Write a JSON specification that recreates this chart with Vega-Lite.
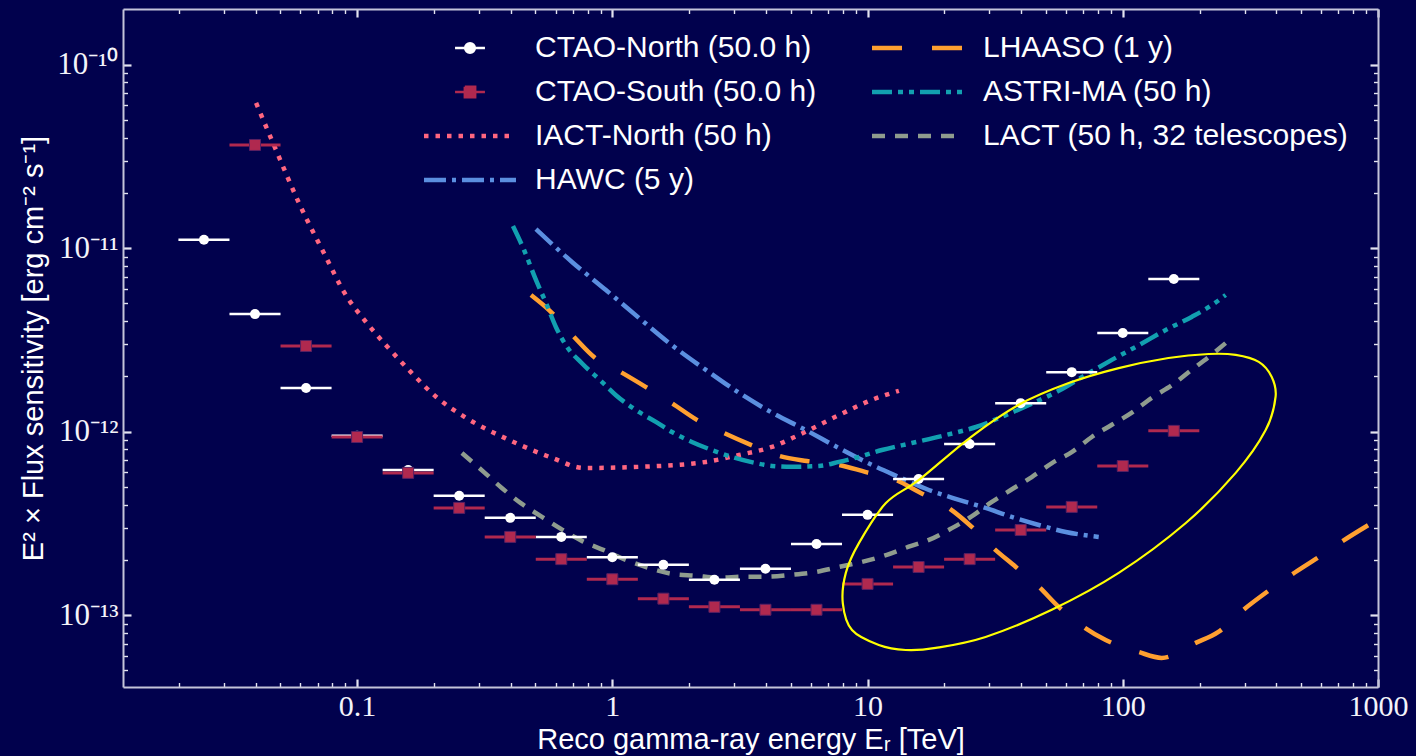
{
  "$schema": "https://vega.github.io/schema/vega-lite/v6.json",
  "width": 1255,
  "height": 678,
  "autosize": {"type": "none"},
  "padding": {"left": 123, "top": 9, "right": 38, "bottom": 69},
  "background": "#01014d",
  "config": {"view": {"stroke": null}, "axis": {"grid": false}},
  "datasets": {
    "ctao": [
      {"s": "CTAO-North (50.0 h)", "e": 0.02512, "elo": 0.01995, "ehi": 0.03162, "f": 1.11e-11},
      {"s": "CTAO-North (50.0 h)", "e": 0.03981, "elo": 0.03162, "ehi": 0.05012, "f": 4.37e-12},
      {"s": "CTAO-North (50.0 h)", "e": 0.0631, "elo": 0.05012, "ehi": 0.07943, "f": 1.73e-12},
      {"s": "CTAO-North (50.0 h)", "e": 0.1, "elo": 0.07943, "ehi": 0.1259, "f": 9.5e-13},
      {"s": "CTAO-North (50.0 h)", "e": 0.1585, "elo": 0.1259, "ehi": 0.1995, "f": 6.18e-13},
      {"s": "CTAO-North (50.0 h)", "e": 0.2512, "elo": 0.1995, "ehi": 0.3162, "f": 4.47e-13},
      {"s": "CTAO-North (50.0 h)", "e": 0.3981, "elo": 0.3162, "ehi": 0.5012, "f": 3.39e-13},
      {"s": "CTAO-North (50.0 h)", "e": 0.631, "elo": 0.5012, "ehi": 0.7943, "f": 2.67e-13},
      {"s": "CTAO-North (50.0 h)", "e": 1.0, "elo": 0.7943, "ehi": 1.259, "f": 2.07e-13},
      {"s": "CTAO-North (50.0 h)", "e": 1.585, "elo": 1.259, "ehi": 1.995, "f": 1.88e-13},
      {"s": "CTAO-North (50.0 h)", "e": 2.512, "elo": 1.995, "ehi": 3.162, "f": 1.56e-13},
      {"s": "CTAO-North (50.0 h)", "e": 3.981, "elo": 3.162, "ehi": 5.012, "f": 1.79e-13},
      {"s": "CTAO-North (50.0 h)", "e": 6.31, "elo": 5.012, "ehi": 7.943, "f": 2.44e-13},
      {"s": "CTAO-North (50.0 h)", "e": 10.0, "elo": 7.943, "ehi": 12.59, "f": 3.52e-13},
      {"s": "CTAO-North (50.0 h)", "e": 15.85, "elo": 12.59, "ehi": 19.95, "f": 5.52e-13},
      {"s": "CTAO-North (50.0 h)", "e": 25.12, "elo": 19.95, "ehi": 31.62, "f": 8.57e-13},
      {"s": "CTAO-North (50.0 h)", "e": 39.81, "elo": 31.62, "ehi": 50.12, "f": 1.43e-12},
      {"s": "CTAO-North (50.0 h)", "e": 63.1, "elo": 50.12, "ehi": 79.43, "f": 2.11e-12},
      {"s": "CTAO-North (50.0 h)", "e": 100.0, "elo": 79.43, "ehi": 125.9, "f": 3.45e-12},
      {"s": "CTAO-North (50.0 h)", "e": 158.5, "elo": 125.9, "ehi": 199.5, "f": 6.79e-12},
      {"s": "CTAO-South (50.0 h)", "e": 0.03981, "elo": 0.03162, "ehi": 0.05012, "f": 3.65e-11},
      {"s": "CTAO-South (50.0 h)", "e": 0.0631, "elo": 0.05012, "ehi": 0.07943, "f": 2.93e-12},
      {"s": "CTAO-South (50.0 h)", "e": 0.1, "elo": 0.07943, "ehi": 0.1259, "f": 9.35e-13},
      {"s": "CTAO-South (50.0 h)", "e": 0.1585, "elo": 0.1259, "ehi": 0.1995, "f": 5.96e-13},
      {"s": "CTAO-South (50.0 h)", "e": 0.2512, "elo": 0.1995, "ehi": 0.3162, "f": 3.84e-13},
      {"s": "CTAO-South (50.0 h)", "e": 0.3981, "elo": 0.3162, "ehi": 0.5012, "f": 2.67e-13},
      {"s": "CTAO-South (50.0 h)", "e": 0.631, "elo": 0.5012, "ehi": 0.7943, "f": 2.02e-13},
      {"s": "CTAO-South (50.0 h)", "e": 1.0, "elo": 0.7943, "ehi": 1.259, "f": 1.57e-13},
      {"s": "CTAO-South (50.0 h)", "e": 1.585, "elo": 1.259, "ehi": 1.995, "f": 1.23e-13},
      {"s": "CTAO-South (50.0 h)", "e": 2.512, "elo": 1.995, "ehi": 3.162, "f": 1.11e-13},
      {"s": "CTAO-South (50.0 h)", "e": 3.981, "elo": 3.162, "ehi": 5.012, "f": 1.07e-13},
      {"s": "CTAO-South (50.0 h)", "e": 6.31, "elo": 5.012, "ehi": 7.943, "f": 1.07e-13},
      {"s": "CTAO-South (50.0 h)", "e": 10.0, "elo": 7.943, "ehi": 12.59, "f": 1.48e-13},
      {"s": "CTAO-South (50.0 h)", "e": 15.85, "elo": 12.59, "ehi": 19.95, "f": 1.83e-13},
      {"s": "CTAO-South (50.0 h)", "e": 25.12, "elo": 19.95, "ehi": 31.62, "f": 2.02e-13},
      {"s": "CTAO-South (50.0 h)", "e": 39.81, "elo": 31.62, "ehi": 50.12, "f": 2.91e-13},
      {"s": "CTAO-South (50.0 h)", "e": 63.1, "elo": 50.12, "ehi": 79.43, "f": 3.89e-13},
      {"s": "CTAO-South (50.0 h)", "e": 100.0, "elo": 79.43, "ehi": 125.9, "f": 6.5e-13},
      {"s": "CTAO-South (50.0 h)", "e": 158.5, "elo": 125.9, "ehi": 199.5, "f": 1.01e-12}
    ],
    "curves": [
      {"s": "IACT-North (50 h)", "e": 0.0402, "f": 6.18e-11},
      {"s": "IACT-North (50 h)", "e": 0.0481, "f": 3.43e-11},
      {"s": "IACT-North (50 h)", "e": 0.0592, "f": 1.76e-11},
      {"s": "IACT-North (50 h)", "e": 0.0755, "f": 8.95e-12},
      {"s": "IACT-North (50 h)", "e": 0.0888, "f": 5.77e-12},
      {"s": "IACT-North (50 h)", "e": 0.1083, "f": 3.96e-12},
      {"s": "IACT-North (50 h)", "e": 0.1298, "f": 2.96e-12},
      {"s": "IACT-North (50 h)", "e": 0.1625, "f": 2.11e-12},
      {"s": "IACT-North (50 h)", "e": 0.2037, "f": 1.55e-12},
      {"s": "IACT-North (50 h)", "e": 0.2671, "f": 1.19e-12},
      {"s": "IACT-North (50 h)", "e": 0.3936, "f": 9.02e-13},
      {"s": "IACT-North (50 h)", "e": 0.58, "f": 7.2e-13},
      {"s": "IACT-North (50 h)", "e": 0.774, "f": 6.34e-13},
      {"s": "IACT-North (50 h)", "e": 1.271, "f": 6.43e-13},
      {"s": "IACT-North (50 h)", "e": 2.326, "f": 6.84e-13},
      {"s": "IACT-North (50 h)", "e": 3.133, "f": 7.46e-13},
      {"s": "IACT-North (50 h)", "e": 4.22, "f": 8.26e-13},
      {"s": "IACT-North (50 h)", "e": 5.38, "f": 9.59e-13},
      {"s": "IACT-North (50 h)", "e": 7.72, "f": 1.23e-12},
      {"s": "IACT-North (50 h)", "e": 10.4, "f": 1.49e-12},
      {"s": "IACT-North (50 h)", "e": 13.27, "f": 1.67e-12},
      {"s": "HAWC (5 y)", "e": 0.502, "f": 1.27e-11},
      {"s": "HAWC (5 y)", "e": 0.695, "f": 8.41e-12},
      {"s": "HAWC (5 y)", "e": 0.944, "f": 5.91e-12},
      {"s": "HAWC (5 y)", "e": 1.271, "f": 4.17e-12},
      {"s": "HAWC (5 y)", "e": 1.712, "f": 2.96e-12},
      {"s": "HAWC (5 y)", "e": 2.326, "f": 2.17e-12},
      {"s": "HAWC (5 y)", "e": 3.133, "f": 1.63e-12},
      {"s": "HAWC (5 y)", "e": 4.22, "f": 1.27e-12},
      {"s": "HAWC (5 y)", "e": 5.73, "f": 1.02e-12},
      {"s": "HAWC (5 y)", "e": 7.72, "f": 8.14e-13},
      {"s": "HAWC (5 y)", "e": 10.4, "f": 6.59e-13},
      {"s": "HAWC (5 y)", "e": 13.27, "f": 5.66e-13},
      {"s": "HAWC (5 y)", "e": 17.39, "f": 4.81e-13},
      {"s": "HAWC (5 y)", "e": 22.8, "f": 4.25e-13},
      {"s": "HAWC (5 y)", "e": 29.0, "f": 3.84e-13},
      {"s": "HAWC (5 y)", "e": 36.7, "f": 3.43e-13},
      {"s": "HAWC (5 y)", "e": 46.9, "f": 3.1e-13},
      {"s": "HAWC (5 y)", "e": 59.8, "f": 2.84e-13},
      {"s": "HAWC (5 y)", "e": 80.5, "f": 2.67e-13},
      {"s": "LHAASO (1 y)", "e": 0.48, "f": 5.56e-12},
      {"s": "LHAASO (1 y)", "e": 0.565, "f": 4.6e-12},
      {"s": "LHAASO (1 y)", "e": 0.708, "f": 3.28e-12},
      {"s": "LHAASO (1 y)", "e": 0.848, "f": 2.55e-12},
      {"s": "LHAASO (1 y)", "e": 1.081, "f": 2.11e-12},
      {"s": "LHAASO (1 y)", "e": 1.355, "f": 1.75e-12},
      {"s": "LHAASO (1 y)", "e": 1.712, "f": 1.43e-12},
      {"s": "LHAASO (1 y)", "e": 2.144, "f": 1.16e-12},
      {"s": "LHAASO (1 y)", "e": 2.735, "f": 9.84e-13},
      {"s": "LHAASO (1 y)", "e": 3.49, "f": 8.47e-13},
      {"s": "LHAASO (1 y)", "e": 4.5, "f": 7.38e-13},
      {"s": "LHAASO (1 y)", "e": 5.78, "f": 6.92e-13},
      {"s": "LHAASO (1 y)", "e": 7.72, "f": 6.59e-13},
      {"s": "LHAASO (1 y)", "e": 9.85, "f": 6.02e-13},
      {"s": "LHAASO (1 y)", "e": 12.9, "f": 5.46e-13},
      {"s": "LHAASO (1 y)", "e": 15.9, "f": 4.69e-13},
      {"s": "LHAASO (1 y)", "e": 20.8, "f": 3.84e-13},
      {"s": "LHAASO (1 y)", "e": 25.6, "f": 3.03e-13},
      {"s": "LHAASO (1 y)", "e": 30.7, "f": 2.36e-13},
      {"s": "LHAASO (1 y)", "e": 38.1, "f": 1.83e-13},
      {"s": "LHAASO (1 y)", "e": 46.9, "f": 1.43e-13},
      {"s": "LHAASO (1 y)", "e": 56.1, "f": 1.11e-13},
      {"s": "LHAASO (1 y)", "e": 70.3, "f": 8.62e-14},
      {"s": "LHAASO (1 y)", "e": 85.7, "f": 7.32e-14},
      {"s": "LHAASO (1 y)", "e": 115.4, "f": 6.3e-14},
      {"s": "LHAASO (1 y)", "e": 142, "f": 5.85e-14},
      {"s": "LHAASO (1 y)", "e": 193, "f": 7.06e-14},
      {"s": "LHAASO (1 y)", "e": 237, "f": 8.1e-14},
      {"s": "LHAASO (1 y)", "e": 297, "f": 1.07e-13},
      {"s": "LHAASO (1 y)", "e": 362, "f": 1.32e-13},
      {"s": "LHAASO (1 y)", "e": 458, "f": 1.66e-13},
      {"s": "LHAASO (1 y)", "e": 569, "f": 2.02e-13},
      {"s": "LHAASO (1 y)", "e": 719, "f": 2.51e-13},
      {"s": "LHAASO (1 y)", "e": 1000, "f": 3.33e-13},
      {"s": "ASTRI-MA (50 h)", "e": 0.408, "f": 1.32e-11},
      {"s": "ASTRI-MA (50 h)", "e": 0.451, "f": 9.77e-12},
      {"s": "ASTRI-MA (50 h)", "e": 0.502, "f": 6.71e-12},
      {"s": "ASTRI-MA (50 h)", "e": 0.55, "f": 5.02e-12},
      {"s": "ASTRI-MA (50 h)", "e": 0.601, "f": 3.72e-12},
      {"s": "ASTRI-MA (50 h)", "e": 0.664, "f": 2.9e-12},
      {"s": "ASTRI-MA (50 h)", "e": 0.76, "f": 2.36e-12},
      {"s": "ASTRI-MA (50 h)", "e": 0.91, "f": 1.87e-12},
      {"s": "ASTRI-MA (50 h)", "e": 1.033, "f": 1.58e-12},
      {"s": "ASTRI-MA (50 h)", "e": 1.271, "f": 1.28e-12},
      {"s": "ASTRI-MA (50 h)", "e": 1.481, "f": 1.13e-12},
      {"s": "ASTRI-MA (50 h)", "e": 1.712, "f": 9.95e-13},
      {"s": "ASTRI-MA (50 h)", "e": 2.05, "f": 8.79e-13},
      {"s": "ASTRI-MA (50 h)", "e": 2.455, "f": 7.94e-13},
      {"s": "ASTRI-MA (50 h)", "e": 2.94, "f": 7.28e-13},
      {"s": "ASTRI-MA (50 h)", "e": 3.65, "f": 6.74e-13},
      {"s": "ASTRI-MA (50 h)", "e": 4.22, "f": 6.5e-13},
      {"s": "ASTRI-MA (50 h)", "e": 5.05, "f": 6.43e-13},
      {"s": "ASTRI-MA (50 h)", "e": 6.44, "f": 6.5e-13},
      {"s": "ASTRI-MA (50 h)", "e": 7.72, "f": 6.84e-13},
      {"s": "ASTRI-MA (50 h)", "e": 9.25, "f": 7.28e-13},
      {"s": "ASTRI-MA (50 h)", "e": 11.38, "f": 7.94e-13},
      {"s": "ASTRI-MA (50 h)", "e": 14.9, "f": 8.67e-13},
      {"s": "ASTRI-MA (50 h)", "e": 20.3, "f": 9.59e-13},
      {"s": "ASTRI-MA (50 h)", "e": 26.6, "f": 1.06e-12},
      {"s": "ASTRI-MA (50 h)", "e": 34.8, "f": 1.23e-12},
      {"s": "ASTRI-MA (50 h)", "e": 44.0, "f": 1.42e-12},
      {"s": "ASTRI-MA (50 h)", "e": 56.1, "f": 1.67e-12},
      {"s": "ASTRI-MA (50 h)", "e": 71.6, "f": 2.04e-12},
      {"s": "ASTRI-MA (50 h)", "e": 90.6, "f": 2.46e-12},
      {"s": "ASTRI-MA (50 h)", "e": 115.6, "f": 2.96e-12},
      {"s": "ASTRI-MA (50 h)", "e": 147.3, "f": 3.58e-12},
      {"s": "ASTRI-MA (50 h)", "e": 186.2, "f": 4.22e-12},
      {"s": "ASTRI-MA (50 h)", "e": 223.2, "f": 4.89e-12},
      {"s": "ASTRI-MA (50 h)", "e": 253, "f": 5.56e-12},
      {"s": "LACT (50 h, 32 telescopes)", "e": 0.2575, "f": 7.65e-13},
      {"s": "LACT (50 h, 32 telescopes)", "e": 0.314, "f": 6.02e-13},
      {"s": "LACT (50 h, 32 telescopes)", "e": 0.369, "f": 4.93e-13},
      {"s": "LACT (50 h, 32 telescopes)", "e": 0.438, "f": 4.08e-13},
      {"s": "LACT (50 h, 32 telescopes)", "e": 0.53, "f": 3.43e-13},
      {"s": "LACT (50 h, 32 telescopes)", "e": 0.629, "f": 2.95e-13},
      {"s": "LACT (50 h, 32 telescopes)", "e": 0.76, "f": 2.54e-13},
      {"s": "LACT (50 h, 32 telescopes)", "e": 0.927, "f": 2.26e-13},
      {"s": "LACT (50 h, 32 telescopes)", "e": 1.13, "f": 2.0e-13},
      {"s": "LACT (50 h, 32 telescopes)", "e": 1.39, "f": 1.81e-13},
      {"s": "LACT (50 h, 32 telescopes)", "e": 1.712, "f": 1.68e-13},
      {"s": "LACT (50 h, 32 telescopes)", "e": 2.123, "f": 1.64e-13},
      {"s": "LACT (50 h, 32 telescopes)", "e": 2.616, "f": 1.6e-13},
      {"s": "LACT (50 h, 32 telescopes)", "e": 3.28, "f": 1.62e-13},
      {"s": "LACT (50 h, 32 telescopes)", "e": 4.03, "f": 1.62e-13},
      {"s": "LACT (50 h, 32 telescopes)", "e": 5.05, "f": 1.66e-13},
      {"s": "LACT (50 h, 32 telescopes)", "e": 6.27, "f": 1.72e-13},
      {"s": "LACT (50 h, 32 telescopes)", "e": 7.72, "f": 1.83e-13},
      {"s": "LACT (50 h, 32 telescopes)", "e": 9.5, "f": 1.95e-13},
      {"s": "LACT (50 h, 32 telescopes)", "e": 11.9, "f": 2.13e-13},
      {"s": "LACT (50 h, 32 telescopes)", "e": 14.5, "f": 2.36e-13},
      {"s": "LACT (50 h, 32 telescopes)", "e": 17.4, "f": 2.57e-13},
      {"s": "LACT (50 h, 32 telescopes)", "e": 21.4, "f": 2.98e-13},
      {"s": "LACT (50 h, 32 telescopes)", "e": 25.4, "f": 3.43e-13},
      {"s": "LACT (50 h, 32 telescopes)", "e": 30.7, "f": 4.14e-13},
      {"s": "LACT (50 h, 32 telescopes)", "e": 36.4, "f": 4.81e-13},
      {"s": "LACT (50 h, 32 telescopes)", "e": 44.0, "f": 5.66e-13},
      {"s": "LACT (50 h, 32 telescopes)", "e": 52.8, "f": 6.74e-13},
      {"s": "LACT (50 h, 32 telescopes)", "e": 63.1, "f": 7.74e-13},
      {"s": "LACT (50 h, 32 telescopes)", "e": 75.6, "f": 9.35e-13},
      {"s": "LACT (50 h, 32 telescopes)", "e": 90.6, "f": 1.09e-12},
      {"s": "LACT (50 h, 32 telescopes)", "e": 108.5, "f": 1.27e-12},
      {"s": "LACT (50 h, 32 telescopes)", "e": 130, "f": 1.53e-12},
      {"s": "LACT (50 h, 32 telescopes)", "e": 155.6, "f": 1.79e-12},
      {"s": "LACT (50 h, 32 telescopes)", "e": 186.2, "f": 2.17e-12},
      {"s": "LACT (50 h, 32 telescopes)", "e": 217, "f": 2.55e-12},
      {"s": "LACT (50 h, 32 telescopes)", "e": 253, "f": 3.04e-12}
    ],
    "ring": [
      {"i": 1, "e": 8.0, "f": 1.16e-13},
      {"i": 2, "e": 8.69, "f": 8.3e-14},
      {"i": 3, "e": 11.07, "f": 6.88e-14},
      {"i": 4, "e": 14.1, "f": 6.46e-14},
      {"i": 5, "e": 18.5, "f": 6.63e-14},
      {"i": 6, "e": 29.0, "f": 7.61e-14},
      {"i": 7, "e": 52.7, "f": 1.07e-13},
      {"i": 8, "e": 96.4, "f": 1.7e-13},
      {"i": 9, "e": 176.6, "f": 3.18e-13},
      {"i": 10, "e": 277, "f": 5.96e-13},
      {"i": 11, "e": 363, "f": 1.02e-12},
      {"i": 12, "e": 397, "f": 1.55e-12},
      {"i": 13, "e": 383, "f": 1.99e-12},
      {"i": 14, "e": 341, "f": 2.4e-12},
      {"i": 15, "e": 277, "f": 2.62e-12},
      {"i": 16, "e": 217, "f": 2.65e-12},
      {"i": 17, "e": 151, "f": 2.52e-12},
      {"i": 18, "e": 96.4, "f": 2.22e-12},
      {"i": 19, "e": 61.4, "f": 1.84e-12},
      {"i": 20, "e": 39.1, "f": 1.4e-12},
      {"i": 21, "e": 25.4, "f": 9.35e-13},
      {"i": 22, "e": 15.9, "f": 5.46e-13},
      {"i": 23, "e": 11.8, "f": 4.08e-13},
      {"i": 24, "e": 9.25, "f": 2.47e-13},
      {"i": 25, "e": 8.22, "f": 1.7e-13}
    ]
  },
  "layer": [
    {
      "data": {"name": "curves"},
      "transform": [{"filter": "datum.s === 'IACT-North (50 h)'"}],
      "mark": {"type": "line", "color": "#ff6680", "strokeWidth": 4.5, "strokeDash": [4.5, 7], "interpolate": "monotone"},
      "encoding": {
        "x": {"field": "e", "type": "quantitative", "scale": {"type": "log", "domain": [0.0121, 1000]}, "axis": null},
        "y": {"field": "f", "type": "quantitative", "scale": {"type": "log", "domain": [4.06e-14, 2.01e-10]}, "axis": null}
      }
    },
    {
      "data": {"name": "curves"},
      "transform": [{"filter": "datum.s === 'HAWC (5 y)'"}],
      "mark": {"type": "line", "color": "#5b8fe0", "strokeWidth": 4.5, "strokeDash": [22, 6, 4, 6], "interpolate": "monotone"},
      "encoding": {
        "x": {"field": "e", "type": "quantitative", "scale": {"type": "log", "domain": [0.0121, 1000]}, "axis": null},
        "y": {"field": "f", "type": "quantitative", "scale": {"type": "log", "domain": [4.06e-14, 2.01e-10]}, "axis": null}
      }
    },
    {
      "data": {"name": "curves"},
      "transform": [{"filter": "datum.s === 'LHAASO (1 y)'"}],
      "mark": {"type": "line", "color": "#ffa030", "strokeWidth": 4.5, "strokeDash": [30, 30], "interpolate": "monotone"},
      "encoding": {
        "x": {"field": "e", "type": "quantitative", "scale": {"type": "log", "domain": [0.0121, 1000]}, "axis": null},
        "y": {"field": "f", "type": "quantitative", "scale": {"type": "log", "domain": [4.06e-14, 2.01e-10]}, "axis": null}
      }
    },
    {
      "data": {"name": "curves"},
      "transform": [{"filter": "datum.s === 'ASTRI-MA (50 h)'"}],
      "mark": {"type": "line", "color": "#12a0b0", "strokeWidth": 4.5, "strokeDash": [20, 6, 5, 6, 5, 6], "interpolate": "monotone"},
      "encoding": {
        "x": {"field": "e", "type": "quantitative", "scale": {"type": "log", "domain": [0.0121, 1000]}, "axis": null},
        "y": {"field": "f", "type": "quantitative", "scale": {"type": "log", "domain": [4.06e-14, 2.01e-10]}, "axis": null}
      }
    },
    {
      "data": {"name": "curves"},
      "transform": [{"filter": "datum.s === 'LACT (50 h, 32 telescopes)'"}],
      "mark": {"type": "line", "color": "#8f9c8e", "strokeWidth": 4.5, "strokeDash": [13, 10], "interpolate": "monotone"},
      "encoding": {
        "x": {"field": "e", "type": "quantitative", "scale": {"type": "log", "domain": [0.0121, 1000]}, "axis": null},
        "y": {"field": "f", "type": "quantitative", "scale": {"type": "log", "domain": [4.06e-14, 2.01e-10]}, "axis": null}
      }
    },
    {
      "data": {"name": "ctao"},
      "transform": [{"filter": "datum.s === 'CTAO-North (50.0 h)'"}],
      "mark": {"type": "rule", "strokeWidth": 2.5},
      "encoding": {
        "x": {
          "field": "elo", "type": "quantitative",
          "scale": {"type": "log", "domain": [0.0121, 1000]},
          "axis": {
            "orient": "bottom",
            "values": [0.02, 0.03, 0.04, 0.05, 0.06, 0.07, 0.08, 0.09, 0.1, 0.2, 0.3, 0.4, 0.5, 0.6, 0.7, 0.8, 0.9, 1, 2, 3, 4, 5, 6, 7, 8, 9, 10, 20, 30, 40, 50, 60, 70, 80, 90, 100, 200, 300, 400, 500, 600, 700, 800, 900, 1000],
            "labelExpr": "abs(log(datum.value)/LN10 - round(log(datum.value)/LN10)) < 0.001 ? (datum.value < 0.5 ? '0.1' : format(datum.value, 'd')) : ''",
            "labelOverlap": false, "labelFlush": false, "labelBound": false,
            "labelFont": "Liberation Serif", "labelFontSize": 30, "labelColor": "#f4f4fa", "labelPadding": 12,
            "tickSize": {"condition": {"test": "abs(log(datum.value)/LN10 - round(log(datum.value)/LN10)) < 0.001", "value": -8}, "value": -4.5},
            "tickWidth": {"condition": {"test": "abs(log(datum.value)/LN10 - round(log(datum.value)/LN10)) < 0.001", "value": 2.2}, "value": 1.4},
            "tickColor": "#e4e4f0",
            "domainColor": "#c4c4da", "domainWidth": 2,
            "title": "Reco gamma-ray energy Eᵣ [TeV]",
            "titleFont": "Liberation Sans", "titleFontSize": 29, "titleFontWeight": "normal", "titleColor": "#ffffff",
            "titleBaseline": "alphabetic", "titleY": 61
          }
        },
        "x2": {"field": "ehi"},
        "y": {
          "field": "f", "type": "quantitative",
          "scale": {"type": "log", "domain": [4.06e-14, 2.01e-10]},
          "axis": {
            "orient": "left",
            "values": [5e-14, 6e-14, 7e-14, 8e-14, 9e-14, 1e-13, 2e-13, 3e-13, 4e-13, 5e-13, 6e-13, 7e-13, 8e-13, 9e-13, 1e-12, 2e-12, 3e-12, 4e-12, 5e-12, 6e-12, 7e-12, 8e-12, 9e-12, 1e-11, 2e-11, 3e-11, 4e-11, 5e-11, 6e-11, 7e-11, 8e-11, 9e-11, 1e-10],
            "labelExpr": "abs(log(datum.value)/LN10 - round(log(datum.value)/LN10)) < 0.001 ? (datum.value > 5e-11 ? '10⁻¹⁰' : datum.value > 5e-12 ? '10⁻¹¹' : datum.value > 5e-13 ? '10⁻¹²' : '10⁻¹³') : ''",
            "labelOverlap": false, "labelFlush": false, "labelBound": false,
            "labelFont": "Liberation Serif", "labelFontSize": 31, "labelColor": "#f4f4fa", "labelPadding": 13,
            "tickSize": {"condition": {"test": "abs(log(datum.value)/LN10 - round(log(datum.value)/LN10)) < 0.001", "value": -8}, "value": -4.5},
            "tickWidth": {"condition": {"test": "abs(log(datum.value)/LN10 - round(log(datum.value)/LN10)) < 0.001", "value": 2.2}, "value": 1.4},
            "tickColor": "#e4e4f0",
            "domainColor": "#c4c4da", "domainWidth": 2,
            "title": "E² × Flux sensitivity [erg cm⁻² s⁻¹]",
            "titleFont": "Liberation Sans", "titleFontSize": 29, "titleFontWeight": "normal", "titleColor": "#ffffff", "titlePadding": 8
          }
        },
        "color": {
          "field": "s", "type": "nominal",
          "scale": {
            "domain": ["CTAO-North (50.0 h)", "CTAO-South (50.0 h)", "IACT-North (50 h)", "HAWC (5 y)", "LHAASO (1 y)", "ASTRI-MA (50 h)", "LACT (50 h, 32 telescopes)"],
            "range": ["#ffffff", "#b0294f", "#ff6680", "#5b8fe0", "#ffa030", "#12a0b0", "#8f9c8e"]
          },
          "legend": {
            "orient": "none", "legendX": 332, "legendY": 24,
            "columns": 2, "title": null, "padding": 0,
            "rowPadding": 14, "columnPadding": 46,
            "labelFont": "Liberation Sans", "labelFontSize": 30, "labelColor": "#ffffff", "labelLimit": 600,
            "symbolSize": 529, "symbolOffset": 0, "labelOffset": 50,
            "encode": {
              "symbols": {
                "update": {
                  "shape": {"signal": "datum.value === 'CTAO-North (50.0 h)' ? 'M-1.3,0H1.3M-0.42,0A0.42,0.42,0,1,1,0.42,0A0.42,0.42,0,1,1,-0.42,0Z' : datum.value === 'CTAO-South (50.0 h)' ? 'M-1.3,0H1.3M-0.45,-0.45H0.45V0.45H-0.45Z' : 'M-4,0H4'"},
                  "size": {"value": 529},
                  "fill": {"signal": "datum.value === 'CTAO-North (50.0 h)' ? '#ffffff' : datum.value === 'CTAO-South (50.0 h)' ? '#b0294f' : 'transparent'"},
                  "stroke": {"signal": "datum.value === 'CTAO-North (50.0 h)' ? '#ffffff' : datum.value === 'CTAO-South (50.0 h)' ? '#b0294f' : datum.value === 'LHAASO (1 y)' ? '#ffa030' : datum.value === 'ASTRI-MA (50 h)' ? '#12a0b0' : datum.value === 'IACT-North (50 h)' ? '#ff6680' : datum.value === 'LACT (50 h, 32 telescopes)' ? '#8f9c8e' : '#5b8fe0'"},
                  "strokeWidth": {"signal": "datum.value === 'CTAO-North (50.0 h)' || datum.value === 'CTAO-South (50.0 h)' ? 2.5 : 4.5"},
                  "strokeDash": {"signal": "datum.value === 'IACT-North (50 h)' ? [4.5, 7] : datum.value === 'HAWC (5 y)' ? [22, 6, 4, 6] : datum.value === 'LHAASO (1 y)' ? [30, 30] : datum.value === 'ASTRI-MA (50 h)' ? [20, 6, 5, 6, 5, 6] : datum.value === 'LACT (50 h, 32 telescopes)' ? [13, 10] : [1000, 0]"},
                  "opacity": {"value": 1},
                  "fillOpacity": {"value": 1},
                  "strokeOpacity": {"value": 1}
                }
              }
            }
          }
        }
      }
    },
    {
      "data": {"name": "ctao"},
      "transform": [{"filter": "datum.s === 'CTAO-North (50.0 h)'"}],
      "mark": {"type": "point", "shape": "circle", "filled": true, "size": 100, "color": "#ffffff", "opacity": 1},
      "encoding": {
        "x": {"field": "e", "type": "quantitative", "scale": {"type": "log", "domain": [0.0121, 1000]}, "axis": null},
        "y": {"field": "f", "type": "quantitative", "scale": {"type": "log", "domain": [4.06e-14, 2.01e-10]}, "axis": null}
      }
    },
    {
      "data": {"name": "ctao"},
      "transform": [{"filter": "datum.s === 'CTAO-South (50.0 h)'"}],
      "mark": {"type": "rule", "strokeWidth": 3, "color": "#b0294f"},
      "encoding": {
        "x": {
          "field": "elo", "type": "quantitative",
          "scale": {"type": "log", "domain": [0.0121, 1000]},
          "axis": {
            "orient": "top",
            "values": [0.02, 0.03, 0.04, 0.05, 0.06, 0.07, 0.08, 0.09, 0.1, 0.2, 0.3, 0.4, 0.5, 0.6, 0.7, 0.8, 0.9, 1, 2, 3, 4, 5, 6, 7, 8, 9, 10, 20, 30, 40, 50, 60, 70, 80, 90, 100, 200, 300, 400, 500, 600, 700, 800, 900, 1000],
            "labels": false, "title": null,
            "tickSize": {"condition": {"test": "abs(log(datum.value)/LN10 - round(log(datum.value)/LN10)) < 0.001", "value": -8}, "value": -4.5},
            "tickWidth": {"condition": {"test": "abs(log(datum.value)/LN10 - round(log(datum.value)/LN10)) < 0.001", "value": 2.2}, "value": 1.4},
            "tickColor": "#e4e4f0",
            "domainColor": "#c4c4da", "domainWidth": 2
          }
        },
        "x2": {"field": "ehi"},
        "y": {
          "field": "f", "type": "quantitative",
          "scale": {"type": "log", "domain": [4.06e-14, 2.01e-10]},
          "axis": {
            "orient": "right",
            "values": [5e-14, 6e-14, 7e-14, 8e-14, 9e-14, 1e-13, 2e-13, 3e-13, 4e-13, 5e-13, 6e-13, 7e-13, 8e-13, 9e-13, 1e-12, 2e-12, 3e-12, 4e-12, 5e-12, 6e-12, 7e-12, 8e-12, 9e-12, 1e-11, 2e-11, 3e-11, 4e-11, 5e-11, 6e-11, 7e-11, 8e-11, 9e-11, 1e-10],
            "labels": false, "title": null,
            "tickSize": {"condition": {"test": "abs(log(datum.value)/LN10 - round(log(datum.value)/LN10)) < 0.001", "value": -8}, "value": -4.5},
            "tickWidth": {"condition": {"test": "abs(log(datum.value)/LN10 - round(log(datum.value)/LN10)) < 0.001", "value": 2.2}, "value": 1.4},
            "tickColor": "#e4e4f0",
            "domainColor": "#c4c4da", "domainWidth": 2
          }
        }
      }
    },
    {
      "data": {"name": "ctao"},
      "transform": [{"filter": "datum.s === 'CTAO-South (50.0 h)'"}],
      "mark": {"type": "point", "shape": "square", "filled": true, "size": 121, "color": "#b0294f", "stroke": "#5a2062", "strokeWidth": 1, "opacity": 1},
      "encoding": {
        "x": {"field": "e", "type": "quantitative", "scale": {"type": "log", "domain": [0.0121, 1000]}, "axis": null},
        "y": {"field": "f", "type": "quantitative", "scale": {"type": "log", "domain": [4.06e-14, 2.01e-10]}, "axis": null}
      }
    },
    {
      "data": {"name": "ring"},
      "mark": {"type": "line", "color": "#ffff00", "strokeWidth": 2.2, "interpolate": "cardinal-closed"},
      "encoding": {
        "x": {"field": "e", "type": "quantitative", "scale": {"type": "log", "domain": [0.0121, 1000]}, "axis": null},
        "y": {"field": "f", "type": "quantitative", "scale": {"type": "log", "domain": [4.06e-14, 2.01e-10]}, "axis": null},
        "order": {"field": "i", "type": "quantitative"}
      }
    }
  ],
  "resolve": {"axis": {"x": "independent", "y": "independent"}}
}
